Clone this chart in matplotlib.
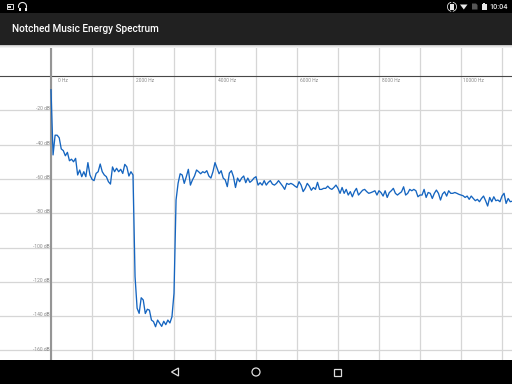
import numpy as np
import matplotlib
matplotlib.use('Agg')
import matplotlib.pyplot as plt
from matplotlib.patches import Rectangle, Polygon, Circle, Wedge, Arc

plt.rcParams['font.family'] = ['Roboto', 'DejaVu Sans']

TITLE = "Notched Music Energy Spectrum"
CLOCK = "10:04"

BIN_HZ = 50
energy_db = [
    -8, -46, -34.5, -34.5, -36, -42.5, -43.5, -46.5, -44.5, -49.4,
    -48.5, -50, -48, -57.7, -54.8, -58.7, -55.8, -58.7, -50.5, -57.7,
    -60.2, -61, -56.8, -55.8, -51.3, -55.8, -57.7, -58.7, -61.6, -63,
    -53, -55.8, -53.8, -55.8, -54.4, -56.8, -51.5, -53, -58.3, -55.8,
    -57.7, -117, -135.4, -138.4, -129.3, -130.6, -138.5, -136, -136.5, -142.3,
    -143.2, -146.2, -142.3, -144.2, -146, -143, -145, -142.3, -144, -140.4,
    -126.7, -72.3, -62.5, -57, -57.7, -62.6, -58.7, -54.4, -63.6, -60.6,
    -58.3, -54.8, -55.8, -57, -55.8, -56.4, -55.2, -58.3, -59.5, -55.8,
    -50.5, -53.8, -57, -55.2, -59.5, -60.6, -64.5, -56.6, -55.2, -58.7,
    -65, -59.5, -61.6, -59.5, -58.3, -62.2, -59.5, -62, -61, -59.5,
    -58.7, -63.6, -62.2, -63.6, -61, -63.6, -62, -61, -63, -63.6,
    -62.6, -61, -62.6, -64.2, -66.1, -62.6, -63.2, -62.6, -63.2, -64.2,
    -65, -61.6, -63.6, -67.4, -65.5, -62.6, -64.2, -66.6, -65, -66.1,
    -62, -66.1, -66.1, -65.5, -65.5, -64.2, -65.5, -66.1, -65, -63.6,
    -65.5, -68.4, -65, -68.4, -66.1, -69.4, -67.4, -70.4, -67.4, -65.5,
    -69.4, -68, -66.6, -66.1, -67.4, -68.4, -68, -67.5, -66.9, -69.4,
    -66.9, -68, -70, -66.9, -70.8, -68, -66.9, -65.5, -68.4, -69.4,
    -68.4, -67.5, -64.6, -69.4, -68.4, -66.1, -66.9, -66.1, -66.9, -70.4,
    -69.4, -69.4, -66.1, -70.8, -67.9, -68.4, -71.4, -68.4, -66.5, -68.4,
    -72.3, -68.8, -67.5, -70, -66.9, -68.4, -68.4, -67.9, -68.4, -69,
    -69.4, -69.8, -70.8, -70, -71.9, -70, -71.4, -72.7, -71.9, -73.3,
    -71.4, -70, -72.7, -75.8, -70.8, -73.3, -70.4, -72.7, -72.3, -73.3,
    -70, -68.4, -74.3, -71.4, -73.3, -73,
]
freq_grid = [0, 1000, 2000, 3000, 4000, 5000, 6000, 7000, 8000, 9000, 10000, 11000]
freq_labels = [0, 2000, 4000, 6000, 8000, 10000]
db_labels = [-20, -40, -60, -80, -100, -120, -140, -160]

W, H = 512, 384
fig = plt.figure(figsize=(W / 100, H / 100), dpi=100, facecolor='white')

# plot area sits between app bar and nav bar
ax = fig.add_axes([0, 1 - 360 / H, 1, (360 - 45) / H])
ax.set_xlim(-1244, 11244)
ax.set_ylim(-165.6, 18.1)
ax.axis('off')

for f in freq_grid:
    ax.axvline(f, color='#d6d6d6', lw=0.9, zorder=1)
for d in db_labels:
    ax.axhline(d, color='#d6d6d6', lw=0.9, zorder=1)
ax.axhline(0, color='#484848', lw=0.8, zorder=2)
ax.axvline(0, color='#959595', lw=1.5, zorder=2)

# hz labels are centred a fixed distance right of their gridline
for f in freq_labels:
    ax.annotate(f"{f} Hz", (f, 0), xytext=(8.6, -3.0), textcoords='offset points',
                fontsize=3.5, color='#888888', ha='center', va='center')
for d in db_labels:
    ax.annotate(f"{d} dB", (0, d), xytext=(-1.0, 1.0), textcoords='offset points',
                fontsize=3.5, color='#888888', ha='right', va='center')

freqs = np.arange(len(energy_db)) * BIN_HZ
ax.plot(freqs, energy_db, color='#1565c0', lw=0.95, zorder=3)

# android chrome on a pixel overlay
ui = fig.add_axes([0, 0, 1, 1])
ui.set_xlim(0, W)
ui.set_ylim(H, 0)
ui.axis('off')
ui.patch.set_alpha(0)

ui.add_patch(Rectangle((0, 0), W, 12.5, color='black', lw=0))
ui.add_patch(Rectangle((0, 12.5), W, 32, color='#212121', lw=0))
for i, c in enumerate(['#c8c8c8', '#e4e4e4', '#f2f2f2']):
    ui.add_patch(Rectangle((0, 44.5 + i), W, 1, color=c, lw=0))
ui.add_patch(Rectangle((0, 360), W, 24, color='black', lw=0))

ui.text(12, 29, TITLE, color='white', fontsize=7.2, fontweight='medium', va='center', ha='left')
ui.text(508, 6.6, CLOCK, color='#e8e8e8', fontsize=5.2, fontweight='medium', va='center', ha='right')

# left status icons
ui.add_patch(Rectangle((6.5, 3.5), 6, 5.5, fill=False, ec='#dddddd', lw=0.7))
ui.add_patch(Rectangle((8, 6), 3, 1.5, color='#dddddd', lw=0))
ui.add_patch(Arc((22.5, 6.5), 8, 8, theta1=160, theta2=380, ec='#e8e8e8', lw=0.8))
ui.add_patch(Rectangle((18.5, 7.5), 2, 3, color='#e8e8e8', lw=0))
ui.add_patch(Rectangle((24.5, 7.5), 2, 3, color='#e8e8e8', lw=0))

# right status icons
ui.add_patch(Rectangle((450, 3.5), 4, 6.5, color='#e8e8e8', lw=0))
ui.add_patch(Wedge((452, 6.8), 5, 100, 260, width=0.8, color='#e8e8e8', lw=0))
ui.add_patch(Wedge((452, 6.8), 5, -80, 80, width=0.8, color='#e8e8e8', lw=0))
ui.add_patch(Polygon([[460, 4.5], [467.5, 4.5], [463.8, 9.5]], color='#e8e8e8', lw=0))
ui.add_patch(Polygon([[472, 3.5], [476, 3.5], [477.5, 5], [477.5, 9.5], [472, 9.5]], color='#555555', lw=0))
ui.add_patch(Rectangle((482, 3.5), 4.5, 6, color='#e8e8e8', lw=0))
ui.add_patch(Rectangle((483.2, 2.6), 2, 1, color='#e8e8e8', lw=0))

# nav buttons
ui.add_patch(Polygon([[171.5, 372], [178.5, 368], [178.5, 376]], fill=False, ec='#dddddd', lw=0.9))
ui.add_patch(Circle((256, 372), 4, fill=False, ec='#dddddd', lw=0.9))
ui.add_patch(Rectangle((333.5, 368.5), 7, 7, fill=False, ec='#dddddd', lw=0.9))

fig.savefig('out.png', dpi=100)
